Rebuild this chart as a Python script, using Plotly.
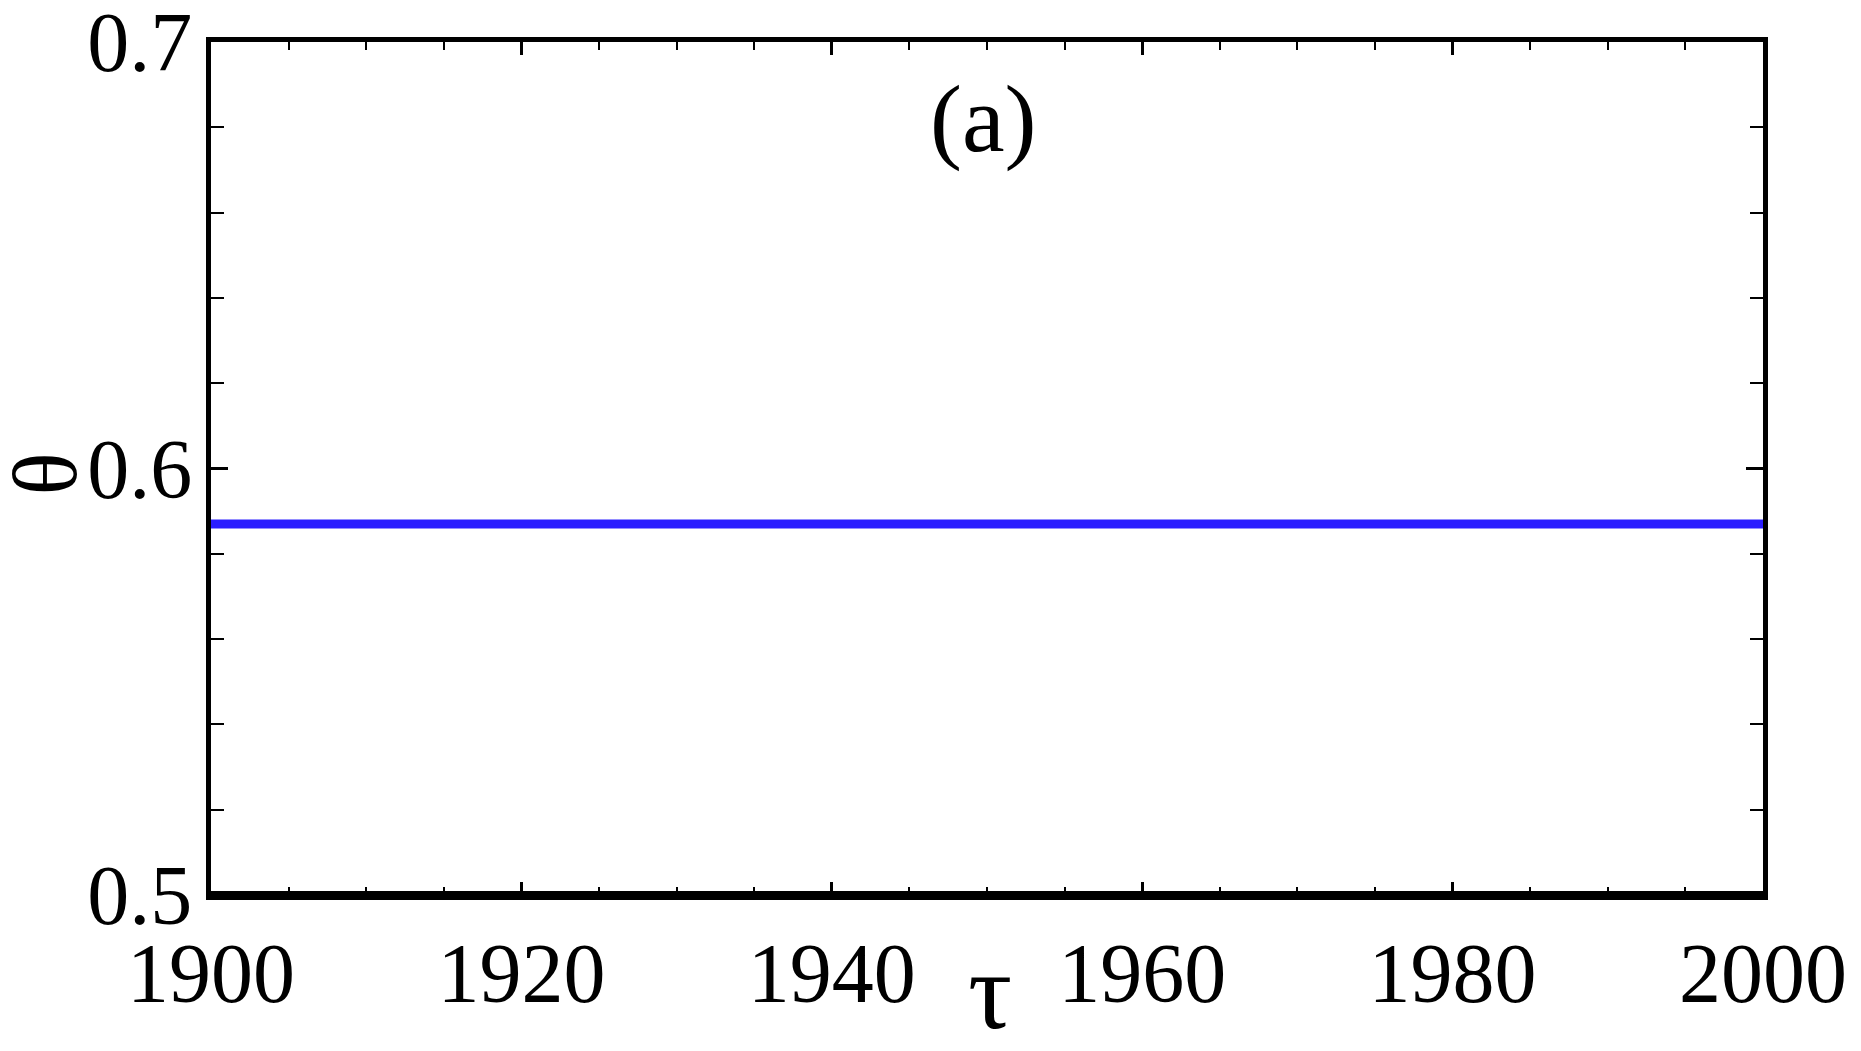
import plotly.graph_objects as go

# Data
tau = [1900, 2000]
theta = [0.587, 0.587]

x_range = [1900, 2000]
y_range = [0.5, 0.7]
x_ticks = [1900, 1920, 1940, 1960, 1980, 2000]
y_ticks = [0.5, 0.6, 0.7]
y_tick_text = ["0.5", "0.6", "0.7"]

FONT = "Liberation Serif"
# page body has an 8px margin; compensate so the plot sits where the reference does
W, H = 1853, 1043
L, R, T, B = 203, 98, 34, 156

fig = go.Figure()
fig.add_trace(go.Scatter(x=tau, y=theta, mode="lines",
                         line=dict(color="#2a1eff", width=9),
                         showlegend=False, hoverinfo="skip", cliponaxis=False))

fig.update_layout(
    width=W, height=H,
    margin=dict(l=L, r=R, t=T, b=B, pad=0, autoexpand=False),
    paper_bgcolor="white", plot_bgcolor="white",
    font=dict(family=FONT, color="black", size=84),
    xaxis=dict(range=x_range, tickmode="array", tickvals=x_ticks, automargin=False,
               ticks="inside", ticklen=13,
               tickwidth=3, tickcolor="black", showline=True, linewidth=5,
               linecolor="black", mirror="allticks", showgrid=False, zeroline=False,
               tickfont=dict(family=FONT, size=84), ticklabelstandoff=1,
               ticklabeloverflow="allow",
               minor=dict(dtick=5, tick0=1900, ticks="inside", ticklen=8, tickwidth=2,
                          tickcolor="black", showgrid=False)),
    yaxis=dict(range=y_range, tickmode="array", tickvals=y_ticks, ticktext=y_tick_text,
               automargin=False,
               ticks="inside", ticklen=17,
               tickwidth=3, tickcolor="black", showline=True, linewidth=5,
               linecolor="black", mirror="allticks", showgrid=False, zeroline=False,
               tickfont=dict(family=FONT, size=84),
               ticklabelstandoff=-3, ticklabeloverflow="allow",
               minor=dict(dtick=0.02, tick0=0.5, ticks="inside", ticklen=13, tickwidth=2,
                          tickcolor="black", showgrid=False)),
)

# thicker bottom axis line
fig.add_shape(type="line", xref="paper", yref="paper", x0=0, x1=1, y0=0, y1=0,
              line=dict(color="black", width=8))

# axis titles
fig.add_annotation(text="θ", xref="paper", yref="paper", x=0, y=0.5,
                   xanchor="center", yanchor="middle", xshift=-166, yshift=-6,
                   textangle=-90, height=70,
                   showarrow=False, font=dict(family=FONT, size=90))
fig.add_annotation(text="τ", xref="paper", yref="paper", x=0.5, y=0,
                   xanchor="center", yanchor="middle", yshift=-96, xshift=3,
                   showarrow=False, font=dict(family=FONT, size=110))
# panel label
fig.add_annotation(text="(a)", xref="paper", yref="paper", x=0.5, y=1,
                   xanchor="center", yanchor="middle", yshift=-76, xshift=-4,
                   showarrow=False, font=dict(family=FONT, size=96))

fig.write_html("out.html")
